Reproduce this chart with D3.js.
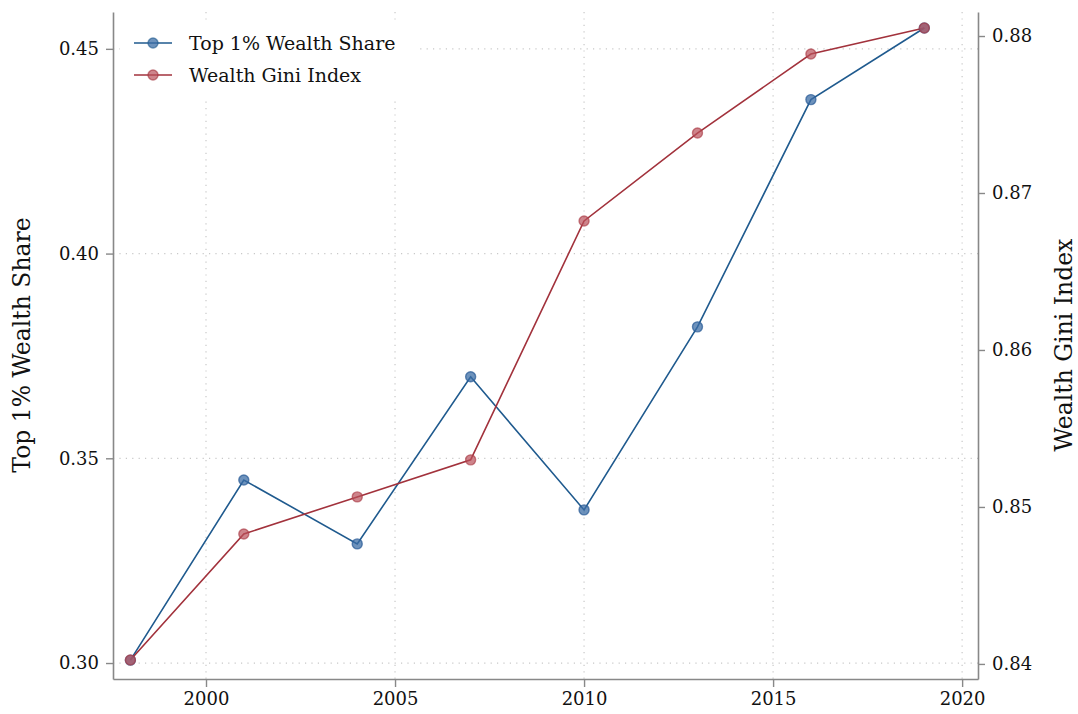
<!DOCTYPE html>
<html><head><meta charset="utf-8">
<script src="https://cdn.jsdelivr.net/npm/d3@7"></script>
<style>body{margin:0;background:#fff}svg{display:block}text{font-family:"DejaVu Serif","Liberation Serif",serif;fill:#111}</style>
</head><body>
<svg id="c" width="1078" height="714"></svg>
<script>
const years = [1998, 2001, 2004, 2007, 2010, 2013, 2016, 2019];
const top1Share = [0.3007, 0.3447, 0.3291, 0.3699, 0.3374, 0.3821, 0.4376, 0.4551];
const giniIndex = [0.84025, 0.84828, 0.85064, 0.8530, 0.86822, 0.87382, 0.87885, 0.88051];
const xTicks = [2000, 2005, 2010, 2015, 2020];
const leftTicks = [0.30, 0.35, 0.40, 0.45];
const rightTicks = [0.84, 0.85, 0.86, 0.87, 0.88];
const seriesNames = ["Top 1% Wealth Share", "Wealth Gini Index"];

const L = 113, R = 978, T = 12, B = 679;
const FONT = '"DejaVu Serif","Liberation Serif",serif';
const svg = d3.select("#c");
const x = d3.scaleLinear().domain([1997.54, 2020.42]).range([L, R]);
const yL = d3.scaleLinear().domain([0.2961, 0.459]).range([B, T]);
const yR = d3.scaleLinear().domain([0.83904, 0.88153]).range([B, T]);

const gridStyle = s => s.attr("stroke", "#c8c8c8").attr("stroke-width", 1.2).attr("stroke-dasharray", "1.2,5.2");
svg.append("g").selectAll("line").data(xTicks).join("line")
  .attr("x1", d => x(d)).attr("x2", d => x(d)).attr("y1", T).attr("y2", B).call(gridStyle);
svg.append("g").selectAll("line").data(leftTicks).join("line")
  .attr("x1", L).attr("x2", R).attr("y1", d => yL(d)).attr("y2", d => yL(d)).call(gridStyle);

const blue = "#1f5a8e", red = "#a2323c";
const blueFill = "rgba(60,110,165,0.75)", redFill = "rgba(185,80,90,0.7)";

// legend background
svg.append("rect").attr("x", 120).attr("y", 20).attr("width", 300).attr("height", 78).attr("fill", "#fff");

const line1 = d3.line().x((d, i) => x(years[i])).y(d => yL(d));
const line2 = d3.line().x((d, i) => x(years[i])).y(d => yR(d));
svg.append("path").datum(top1Share).attr("d", line1).attr("fill", "none").attr("stroke", blue).attr("stroke-width", 1.6);
svg.append("path").datum(giniIndex).attr("d", line2).attr("fill", "none").attr("stroke", red).attr("stroke-width", 1.6);
svg.append("g").selectAll("circle").data(top1Share).join("circle")
  .attr("cx", (d, i) => x(years[i])).attr("cy", d => yL(d)).attr("r", 5)
  .attr("fill", blueFill).attr("stroke", "rgba(40,90,150,0.7)").attr("stroke-width", 1.4);
svg.append("g").selectAll("circle").data(giniIndex).join("circle")
  .attr("cx", (d, i) => x(years[i])).attr("cy", d => yR(d)).attr("r", 5)
  .attr("fill", redFill).attr("stroke", "rgba(170,60,70,0.65)").attr("stroke-width", 1.4);

const axisColor = "#888";
function styleAxis(g) {
  g.select(".domain").attr("stroke", axisColor).attr("stroke-width", 1.6);
  g.selectAll(".tick line").attr("stroke", axisColor).attr("stroke-width", 1.4);
  g.selectAll(".tick text").attr("font-size", 18).attr("fill", "#111").style("font-family", FONT);
}
svg.append("g").attr("transform", `translate(0,${B})`)
  .call(d3.axisBottom(x).tickValues(xTicks).tickFormat(d3.format("d")).tickSize(8).tickSizeOuter(0).tickPadding(5))
  .call(styleAxis);
svg.append("g").attr("transform", `translate(${L},0)`)
  .call(d3.axisLeft(yL).tickValues(leftTicks).tickFormat(d3.format(".2f")).tickSize(7).tickSizeOuter(0).tickPadding(7))
  .call(styleAxis);
svg.append("g").attr("transform", `translate(${R},0)`)
  .call(d3.axisRight(yR).tickValues(rightTicks).tickFormat(d3.format(".2f")).tickSize(7).tickSizeOuter(0).tickPadding(7))
  .call(styleAxis);

svg.append("text").attr("transform", `translate(30,345) rotate(-90)`).attr("text-anchor", "middle")
  .attr("font-size", 23.5).text(seriesNames[0]);
svg.append("text").attr("transform", `translate(1072,345) rotate(-90)`).attr("text-anchor", "middle")
  .attr("font-size", 23.5).text(seriesNames[1]);

const leg = svg.append("g");
[[blue, blueFill], [red, redFill]].forEach((c, i) => {
  const yy = 43 + i * 32;
  leg.append("line").attr("x1", 134).attr("x2", 172).attr("y1", yy).attr("y2", yy).attr("stroke", c[0]).attr("stroke-width", 1.6);
  leg.append("circle").attr("cx", 153).attr("cy", yy).attr("r", 5).attr("fill", c[1]).attr("stroke", c[0]).attr("stroke-opacity", 0.6).attr("stroke-width", 1.4);
  leg.append("text").attr("x", 189).attr("y", yy + 6.5).attr("font-size", 19).text(seriesNames[i]);
});
</script>
</body></html>
